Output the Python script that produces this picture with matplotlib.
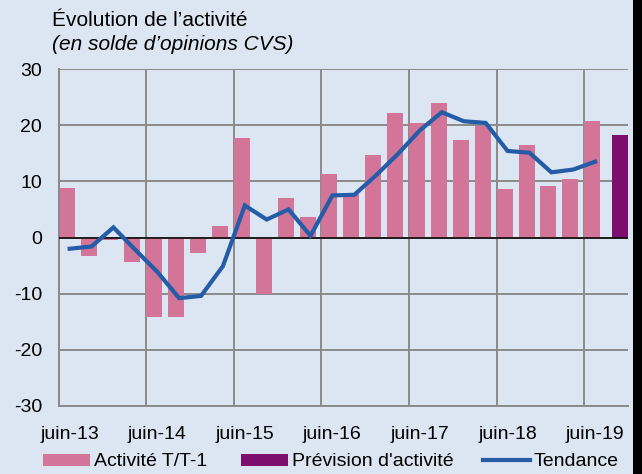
import matplotlib
matplotlib.use("Agg")
import matplotlib.pyplot as plt
from matplotlib.patches import Rectangle, Patch
from matplotlib.lines import Line2D
import numpy as np

# Quarterly activity balance (juin-13 .. juin-19) and trend
activite = [8.8, -3.3, -0.4, -4.4, -14.2, -14.1, -2.8, 2.0, 17.8, -10.1,
            7.0, 3.6, 11.3, 7.7, 14.7, 22.1, 20.4, 24.0, 17.4, 19.8,
            8.7, 16.5, 9.2, 10.4, 20.8]
tendance = [-2.0, -1.6, 1.8, -2.2, -6.1, -10.8, -10.4, -5.1, 5.7, 3.2,
            5.0, 0.3, 7.5, 7.6, 11.1, 14.9, 19.1, 22.3, 20.7, 20.4,
            15.4, 15.1, 11.6, 12.1, 13.5]
prevision = 18.2
tick_labels = ["juin-13", "juin-14", "juin-15", "juin-16", "juin-17",
               "juin-18", "juin-19"]
yticks = [-30, -20, -10, 0, 10, 20, 30]

FONT = "Liberation Sans"
BG = "#dce6f2"
PINK = "#d37598"
PURPLE = "#7c0f6e"
BLUE = "#245ca8"
GRID = "#8a8a8a"

fig = plt.figure(figsize=(6.42, 4.74), dpi=100, facecolor=BG)
W, H = 642, 474
ax = fig.add_axes([58.7 / W, (H - 406) / H, (628 - 58.7) / W, (406 - 69) / H])
ax.set_facecolor(BG)

n = len(activite)
slot = np.arange(n)
bar_w = 0.73
ax.bar(slot, activite, width=bar_w, align="edge", color=PINK, zorder=2)
ax.bar([n + 1 - bar_w], [prevision], width=bar_w, align="edge", color=PURPLE, zorder=2)
ax.plot(slot + 0.5, tendance, color=BLUE, lw=3.0, zorder=4, solid_joinstyle="miter")

ax.set_xlim(0, n + 1)
ax.set_ylim(-30, 30)
ax.set_yticks(yticks)
ax.set_yticklabels([str(v) for v in yticks], fontfamily=FONT, fontsize=14)
ax.set_xticks(np.arange(0, n, 4) + 0.5)
ax.set_xticklabels(tick_labels, fontfamily=FONT, fontsize=14)
ax.tick_params(axis="both", length=0, colors="black")
ax.tick_params(axis="x", pad=14.5)
ax.tick_params(axis="y", pad=12)

ax.grid(axis="y", color=GRID, lw=1.4, zorder=0)
for xv in range(0, n, 4):
    ax.axvline(xv, color=GRID, lw=1.4, zorder=0)
ax.axhline(0, color="black", lw=1.1, zorder=3)
for side in ["top", "right"]:
    ax.spines[side].set_visible(False)
for side in ["left", "bottom"]:
    ax.spines[side].set_color(GRID)
    ax.spines[side].set_linewidth(1.4)

fig.text(52 / W, 1 - 26 / H, "Évolution de l\u2019activité", fontfamily=FONT,
         fontsize=15, ha="left", va="baseline")
fig.text(52 / W, 1 - 50 / H, "(en solde d\u2019opinions CVS)", fontfamily=FONT,
         fontsize=15, style="italic", ha="left", va="baseline")

# Legend entries placed one by one along the bottom
entries = [
    (Patch(facecolor=PINK, edgecolor="none"), "Activité T/T-1", 43),
    (Patch(facecolor=PURPLE, edgecolor="none"), "Prévision d'activité", 241),
    (Line2D([0], [0], color=BLUE, lw=3.0), "Tendance", 483),
]
for handle, label, x0 in entries:
    fig.legend([handle], [label], loc="center left",
               bbox_to_anchor=(x0 / W, 1 - 462 / H), frameon=False,
               prop={"family": FONT, "size": 14}, handlelength=2.42,
               handleheight=0.58, handletextpad=0.2, borderpad=0,
               borderaxespad=0)

fig.patches.append(Rectangle((633 / W, 0), 1, 1, transform=fig.transFigure,
                             facecolor="black", edgecolor="none"))

fig.savefig("out.png", dpi=100, facecolor=BG)
